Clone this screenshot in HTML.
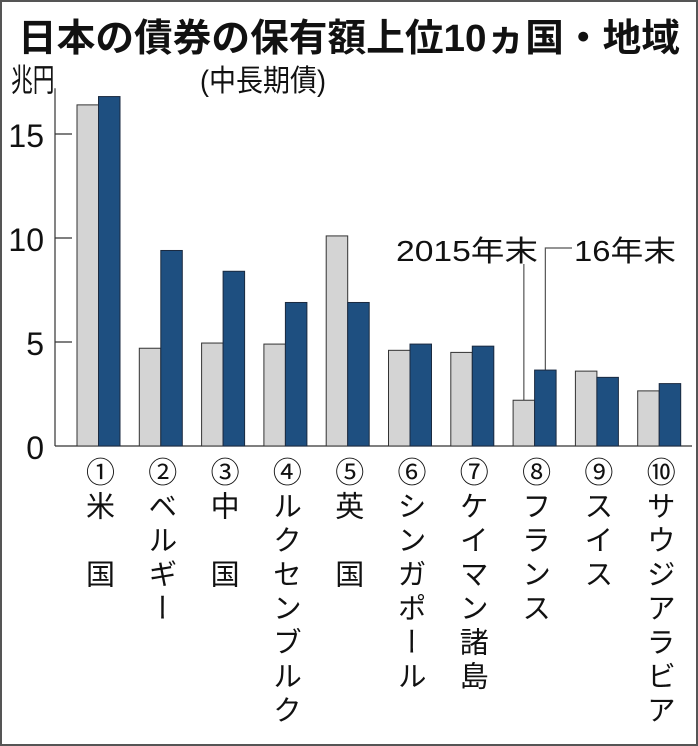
<!DOCTYPE html>
<html><head><meta charset="utf-8"><style>
html,body{margin:0;padding:0;background:#fff}
svg{display:block}
text{font-family:"Liberation Sans","Noto Sans CJK JP",sans-serif;fill:#111}
</style></head><body>
<svg id="chart" width="698" height="746" viewBox="0 0 698 746" xmlns="http://www.w3.org/2000/svg">
<rect x="1" y="1" width="696" height="744" fill="#fff" stroke="#555" stroke-width="2"/>
<text x="18" y="51" font-size="38" font-weight="bold" textLength="662" lengthAdjust="spacingAndGlyphs">日本の債券の保有額上位10ヵ国・地域</text>
<text x="200" y="91" style="font-size:30px" textLength="126" lengthAdjust="spacingAndGlyphs">(中長期債)</text>
<text x="0" y="0" transform="translate(11,91) scale(0.68,1)" style="font-size:32px">兆円</text>
<g id="axes"></g>
<g id="bars"></g>
<g id="labels"></g>
<g>
<text x="396" y="261" font-size="29" textLength="142" lengthAdjust="spacingAndGlyphs">2015年末</text>
<text x="574" y="261" font-size="29" textLength="102" lengthAdjust="spacingAndGlyphs">16年末</text>
</g>
</svg>
<script>
const categories = ["①米　国","②ベルギー","③中　国","④ルクセンブルク","⑤英　国","⑥シンガポール","⑦ケイマン諸島","⑧フランス","⑨スイス","⑩サウジアラビア"];
const values2015 = [16.4,4.7,4.95,4.9,10.1,4.6,4.5,2.2,3.6,2.65];
const values2016 = [16.8,9.4,8.4,6.9,6.9,4.9,4.8,3.65,3.3,3.0];
const yTicks = [0,5,10,15];
const tickLabels = ["0","5","10","15"];

const NS="http://www.w3.org/2000/svg";
const y0=446, pxPer=20.8, axisX=55, x0=77, pitch=62.3, bw=21.5;
const y=v=>y0-v*pxPer;
const gx=i=>x0+i*pitch;
function mk(tag,attrs,parent){const e=document.createElementNS(NS,tag);for(const k in attrs)e.setAttribute(k,attrs[k]);parent.appendChild(e);return e;}
const axes=document.getElementById('axes'),bars=document.getElementById('bars'),labels=document.getElementById('labels');

const ya=mk('line',{x1:axisX,y1:y(17.2),x2:axisX,y2:y0,stroke:'#333','stroke-width':1.2},axes);


const xa=mk('line',{x1:axisX,y1:y0,x2:692,y2:y0,stroke:'#333','stroke-width':1.2},axes);


yTicks.forEach((t,i)=>{
  if(t>0){const tk=mk('line',{x1:axisX,y1:y(t),x2:axisX+17,y2:y(t),stroke:'#333','stroke-width':1.2},axes);
  
  }
  const tl=mk('text',{x:44,y:y(t)+13,'font-size':32,'text-anchor':'end'},axes);
  tl.textContent=tickLabels[i];
  
  
});
categories.forEach((c,i)=>{
  const b1=mk('rect',{x:gx(i),y:y(values2015[i]),width:bw,height:y0-y(values2015[i]),fill:'#d4d4d4',stroke:'#333','stroke-width':1},bars);
  
  
  const b2=mk('rect',{x:gx(i)+bw,y:y(values2016[i]),width:bw,height:y0-y(values2016[i]),fill:'#1e4f80',stroke:'#1a2a40','stroke-width':1},bars);
  
  
  const lb=mk('text',{x:gx(i)+bw-1,y:457,'font-size':29,'writing-mode':'vertical-rl','letter-spacing':5},labels);
  lb.setAttribute('style','writing-mode:vertical-rl;text-orientation:upright');
  lb.textContent=c;
  
  
});
const lx1=gx(7)+bw/2, lx2=gx(7)+bw*1.5;
const l1=mk('polyline',{points:`${lx1},264 ${lx1},${y(values2015[7])}`,fill:'none',stroke:'#555','stroke-width':1.2},axes);


const l2=mk('polyline',{points:`572,248 ${lx2},248 ${lx2},${y(values2016[7])}`,fill:'none',stroke:'#555','stroke-width':1.2},axes);


</script>
</body></html>
